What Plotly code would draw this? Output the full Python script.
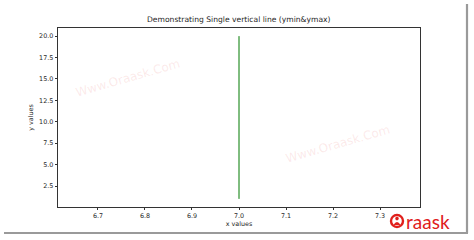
import plotly.graph_objects as go

# ---- data ----
x_pos = [7.0]
y_min = [1]
y_max = [20]
x_ticks = [6.7, 6.8, 6.9, 7.0, 7.1, 7.2, 7.3]
y_ticks = [2.5, 5.0, 7.5, 10.0, 12.5, 15.0, 17.5, 20.0]
title_text = "Demonstrating Single vertical line (ymin&ymax)"
watermark = "Www.Oraask.Com"

W, H = 474, 240
L, R, T, B = 58, 54, 28, 33
PW, PH = W - L - R, H - T - B

def px(x):
    return (x - L) / PW

def py(y):
    return 1 - (y - T) / PH

xs, ys = [], []
for xv, lo, hi in zip(x_pos, y_min, y_max):
    xs += [xv, xv, None]
    ys += [lo, hi, None]

fig = go.Figure()
fig.add_trace(go.Scatter(x=xs, y=ys, mode="lines",
                         line=dict(color="#007a00", width=1),
                         showlegend=False, hoverinfo="skip"))

font = "DejaVu Sans"
tc = "#262626"
axis_common = dict(showgrid=False, zeroline=False, showline=True, mirror=True,
                   linecolor="#333333", linewidth=0.8, ticks="outside",
                   ticklen=2.5, tickwidth=0.7, tickcolor="#333333",
                   tickfont=dict(family=font, size=6.4, color=tc))

fig.update_layout(
    width=W, height=H,
    margin=dict(l=L, r=R, t=T, b=B),
    paper_bgcolor="white", plot_bgcolor="white",
    xaxis=dict(range=[6.615, 7.385], tickvals=x_ticks,
               ticktext=[f"{v:.1f}" for v in x_ticks],
               title=dict(text="x values", font=dict(family=font, size=6.4, color=tc), standoff=2),
               **axis_common),
    yaxis=dict(range=[0.05, 20.95], tickvals=y_ticks,
               ticktext=[f"{v:.1f}" for v in y_ticks],
               title=dict(text="y values", font=dict(family=font, size=6.4, color=tc), standoff=4),
               **axis_common),
)

wm_font = dict(family="DejaVu Sans", size=12, color="rgba(235,120,120,0.17)")
annotations = [
    dict(text=title_text, x=0.5, y=1, xref="paper", yref="paper",
         xanchor="center", yanchor="bottom", yshift=2, showarrow=False,
         font=dict(family=font, size=7.6, color=tc)),
    dict(text=watermark, x=px(128), y=py(78), xref="paper", yref="paper",
         xanchor="center", yanchor="middle",
         showarrow=False, textangle=-16, font=wm_font),
    dict(text=watermark, x=px(338), y=py(144), xref="paper", yref="paper",
         xanchor="center", yanchor="middle",
         showarrow=False, textangle=-16, font=wm_font),
    dict(text="raask", x=px(404), y=py(221), xref="paper", yref="paper",
         xanchor="left", yanchor="middle", showarrow=False,
         font=dict(family="Lato", size=19, color="#e0201c")),
]
fig.update_layout(annotations=annotations)

shapes = [
    # frame shadow lines
    dict(type="line", xref="paper", yref="paper", x0=px(467), x1=px(467),
         y0=py(4), y1=py(233), line=dict(color="#9a9a9a", width=2.2)),
    dict(type="line", xref="paper", yref="paper", x0=px(4), x1=px(468),
         y0=py(233), y1=py(233), line=dict(color="#9a9a9a", width=2.2)),
    # logo ring
    dict(type="circle", xref="paper", yref="paper",
         x0=px(391), x1=px(403), y0=py(215), y1=py(227),
         line=dict(color="#e0201c", width=2.4)),
    dict(type="circle", xref="paper", yref="paper",
         x0=px(395.2), x1=px(398.8), y0=py(216.8), y1=py(220.4),
         line=dict(color="#e0201c", width=0), fillcolor="#e0201c"),
    dict(type="path", xref="paper", yref="paper",
         path=f"M {px(393.5)},{py(225)} Q {px(397)},{py(219)} {px(400.5)},{py(225)} Z",
         line=dict(color="#e0201c", width=0), fillcolor="#e0201c"),
]
fig.update_layout(shapes=shapes)

fig.write_html("out.html")
